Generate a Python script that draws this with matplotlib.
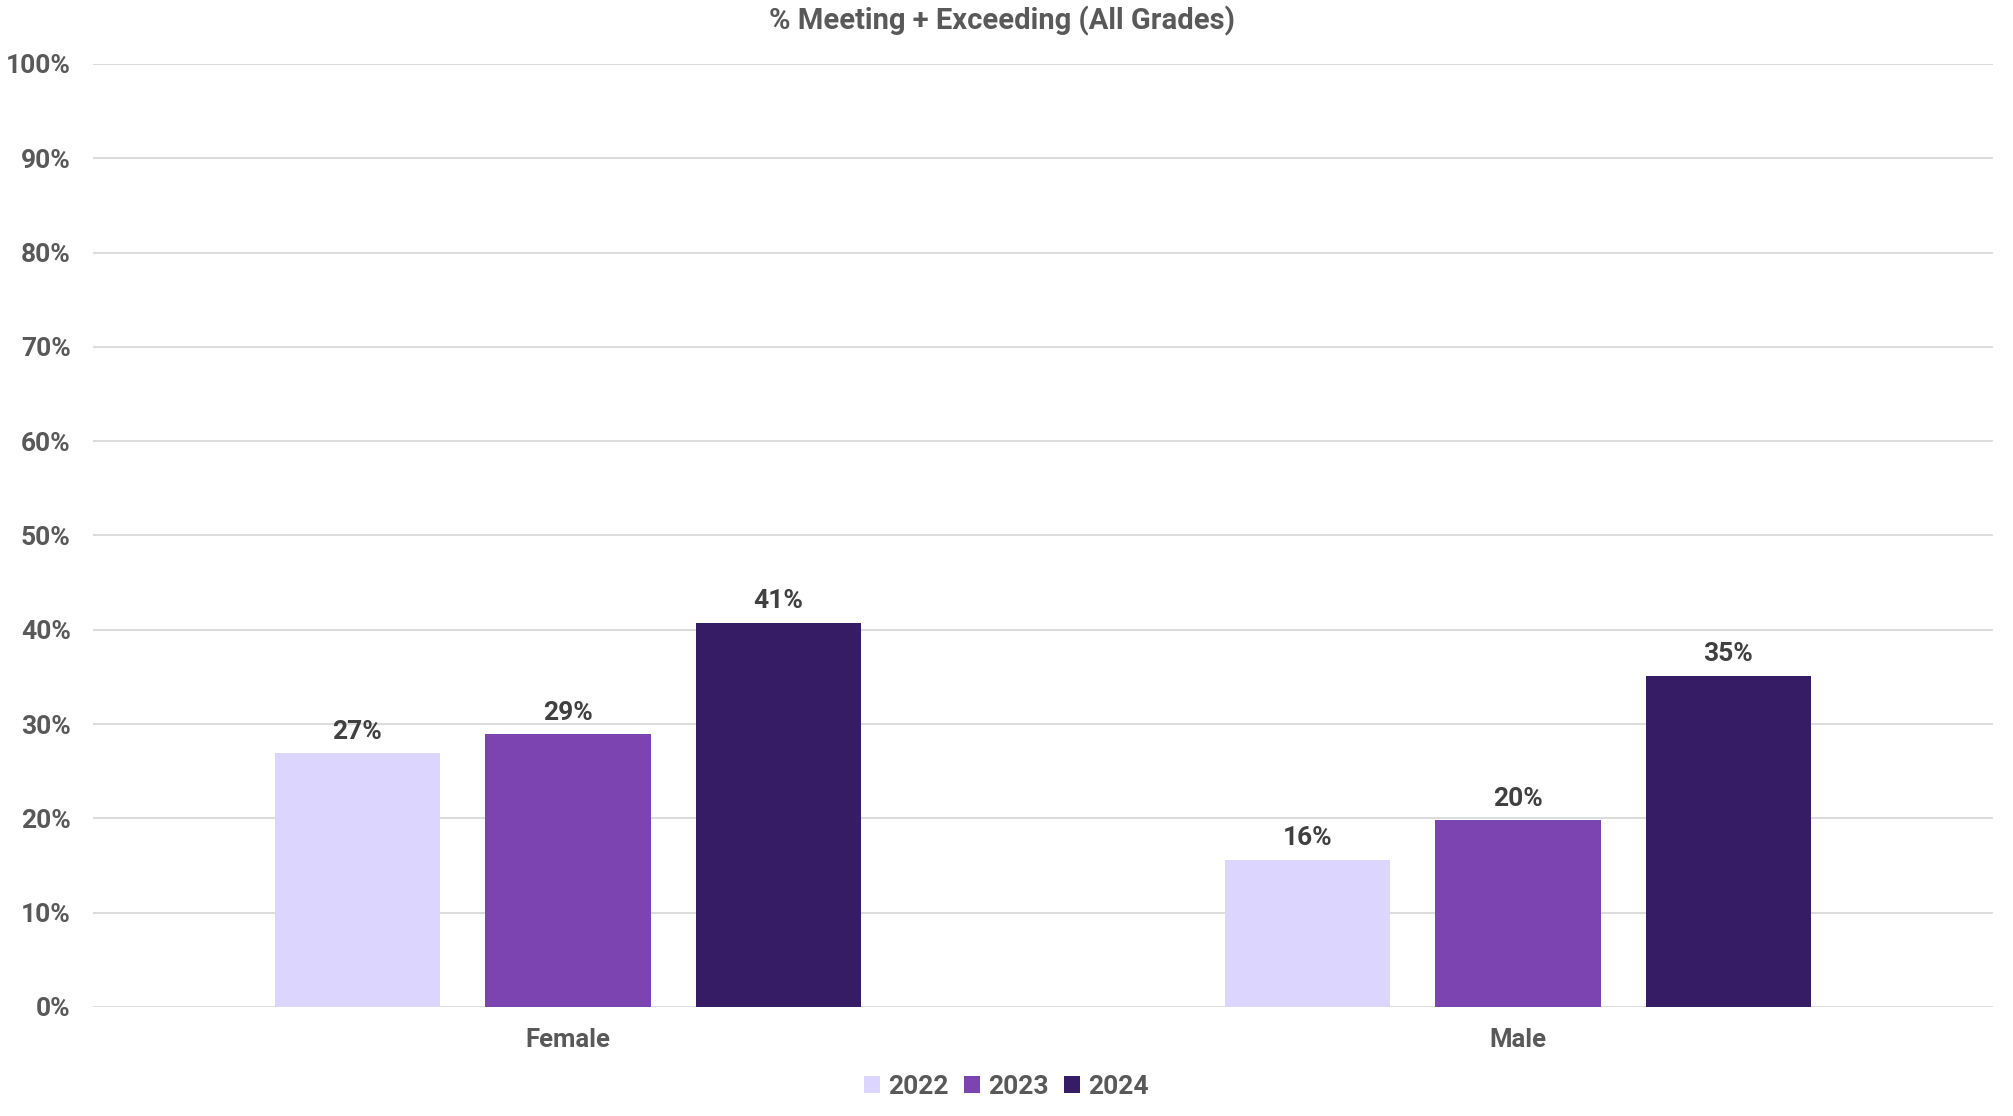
import numpy as np
import matplotlib
matplotlib.use("Agg")
import matplotlib.pyplot as plt
from matplotlib.ticker import MultipleLocator, FuncFormatter

plt.rcParams['font.family'] = ['Roboto', 'DejaVu Sans']
plt.rcParams['font.weight'] = 'bold'

categories = ['Female', 'Male']
years = ['2022', '2023', '2024']
vals_2022 = [26.9, 15.6]
vals_2023 = [28.9, 19.8]
vals_2024 = [40.7, 35.1]
colors = ['#DCD6FE', '#7B44B0', '#351C64']

series = [vals_2022, vals_2023, vals_2024]

fig = plt.figure(figsize=(20.13, 11.16), dpi=100)
ax = fig.add_axes([0.0462, 0.0977, 0.9438, 0.845])

x = np.arange(len(categories))
width = 0.174
step = 0.2216
for i, (vals, yr, c) in enumerate(zip(series, years, colors)):
    pos = x + (i - 1) * step
    bars = ax.bar(pos, vals, width, color=c, label=yr, zorder=3)
    for b, v in zip(bars, vals):
        ax.annotate(f"{v:.0f}%", (b.get_x() + b.get_width() / 2, v),
                    xytext=(0, 7), textcoords='offset points',
                    ha='center', va='bottom', fontsize=19,
                    fontweight='bold', color='#404040')

ax.set_xlim(-0.5, 1.5)
ax.set_ylim(0, 100)
ax.yaxis.set_major_locator(MultipleLocator(10))
ax.yaxis.set_major_formatter(FuncFormatter(lambda v, p: f"{v:.0f}%"))
ax.set_xticks(x)
ax.grid(axis='y', color='#D9D9D9', linewidth=1.3, zorder=0)
ax.tick_params(axis='both', length=0, labelsize=19, labelcolor='#595959')
ax.tick_params(axis='y', pad=16)
ax.tick_params(axis='x', pad=15)
ax.set_xticklabels(categories, fontsize=18.5)
for s in ax.spines.values():
    s.set_visible(False)

fig.text(0.498, 0.981, '% Meeting + Exceeding (All Grades)', fontsize=21,
         fontweight='bold', color='#595959', ha='center', va='center')

fig.legend(*ax.get_legend_handles_labels(), loc='center',
           bbox_to_anchor=(0.5, 0.026), ncol=3,
           frameon=False, fontsize=19, labelcolor='#595959',
           handlelength=0.6, handleheight=0.6, handletextpad=0.3,
           columnspacing=0.6)

fig.savefig('out.png', dpi=100, facecolor='white')
